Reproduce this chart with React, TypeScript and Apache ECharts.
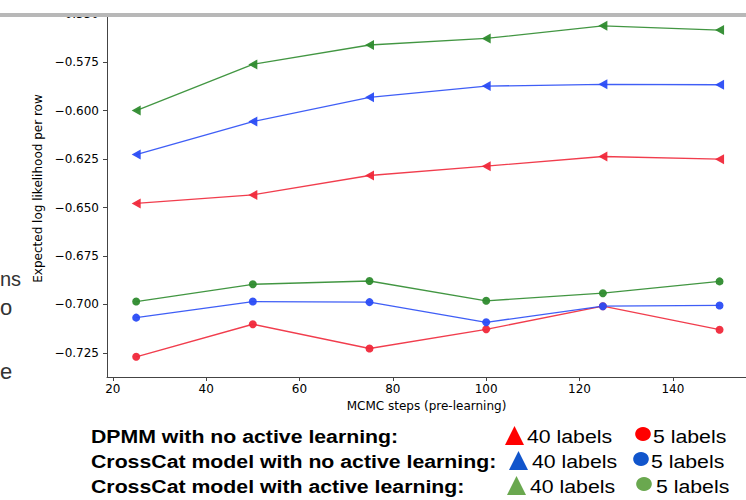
import React, { useEffect, useRef } from "react";
import * as echarts from "echarts";

const xSteps = [25, 50, 75, 100, 125, 150];
const xTicks = [20, 40, 60, 80, 100, 120, 140];
const yTicks = [-0.725, -0.7, -0.675, -0.65, -0.625, -0.6, -0.575, -0.55];

const dpmm40 = [-0.6479, -0.6435, -0.6335, -0.6287, -0.6237, -0.6251];
const ccNo40 = [-0.6227, -0.6057, -0.5932, -0.5874, -0.5865, -0.5867];
const ccAl40 = [-0.6, -0.5762, -0.5662, -0.5628, -0.5563, -0.5585];
const dpmm5 = [-0.727, -0.7102, -0.7227, -0.7128, -0.7009, -0.713];
const ccNo5 = [-0.7068, -0.6985, -0.6988, -0.7092, -0.7009, -0.7005];
const ccAl5 = [-0.6985, -0.6896, -0.6879, -0.6981, -0.6942, -0.6881];

const legendRows = [
  "DPMM with no active learning:",
  "CrossCat model with no active learning:",
  "CrossCat model with active learning:",
];
const legendColors = ["#ff0000", "#1155cc", "#6aa84f"];
const sideFragments = ["ns", "o", "e"];

const RED = "#f0283a";
const BLUE = "#2a4cf5";
const GREEN = "#2e8b2e";

function fmt(v: number) {
  return (v < 0 ? "\u2212" : "") + Math.abs(v).toFixed(3);
}

export default function App() {
  const ref = useRef<HTMLDivElement>(null);
  useEffect(() => {
    if (!ref.current) return;
    const chart = echarts.init(ref.current, null, { renderer: "svg" });
    const tri = (name: string, data: number[], color: string) => ({
      name,
      type: "line",
      data: xSteps.map((x, i) => [x, data[i]]),
      symbol: "triangle",
      symbolRotate: 90,
      symbolSize: [10, 9],
      lineStyle: { color, width: 1.3, opacity: 0.9 },
      itemStyle: { color, opacity: 0.95 },
      z: 3,
    });
    const dot = (name: string, data: number[], color: string) => ({
      name,
      type: "line",
      data: xSteps.map((x, i) => [x, data[i]]),
      symbol: "circle",
      symbolSize: 8,
      lineStyle: { color, width: 1.3, opacity: 0.9 },
      itemStyle: { color, opacity: 0.95 },
      z: 3,
    });
    const S = 1.12;
    const legendChildren: any[] = [];
    const baselines = [446, 471, 496];
    const triX = [505, 509, 507];
    const fortyX = [527, 532, 530];
    const circX = [643, 641, 644];
    const fiveX = [653, 651, 656];
    for (let r = 0; r < 3; r++) {
      const b = baselines[r];
      legendChildren.push({
        type: "text",
        x: 91 / S,
        y: b,
        style: {
          text: legendRows[r],
          fontFamily: "Liberation Sans, Arial, sans-serif",
          fontWeight: "bold",
          fontSize: 19,
          fill: "#000",
          textAlign: "left",
          textVerticalAlign: "bottom",
        },
      });
      legendChildren.push({
        type: "polygon",
        shape: {
          points: [
            [triX[r] / S, b - 1],
            [(triX[r] + 19) / S, b - 1],
            [(triX[r] + 9.5) / S, b - 20],
          ],
        },
        style: { fill: legendColors[r] },
      });
      legendChildren.push({
        type: "text",
        x: fortyX[r] / S,
        y: b,
        style: {
          text: "40 labels",
          fontFamily: "Liberation Sans, Arial, sans-serif",
          fontSize: 19,
          fill: "#000",
          textAlign: "left",
          textVerticalAlign: "bottom",
        },
      });
      legendChildren.push({
        type: "circle",
        shape: { cx: circX[r] / S, cy: b - 12, r: 7 },
        style: { fill: legendColors[r] },
      });
      legendChildren.push({
        type: "text",
        x: fiveX[r] / S,
        y: b,
        style: {
          text: "5 labels",
          fontFamily: "Liberation Sans, Arial, sans-serif",
          fontSize: 19,
          fill: "#000",
          textAlign: "left",
          textVerticalAlign: "bottom",
        },
      });
    }
    const sideY = [279, 307, 371];
    const side = sideFragments.map((text, i) => ({
      type: "text",
      x: 0,
      y: sideY[i],
      style: {
        text,
        fontFamily: "Liberation Sans, Arial, sans-serif",
        fontSize: i === 0 ? 20 : 22,
        fill: "#333",
        textAlign: "left",
        textVerticalAlign: "middle",
      },
    }));
    chart.setOption({
      animation: false,
      backgroundColor: "#fff",
      grid: { left: 107, right: 0, top: 0, bottom: 123, containLabel: false },
      xAxis: {
        type: "value",
        min: 18.75,
        max: 155.67,
        name: "MCMC steps (pre-learning)",
        nameLocation: "middle",
        nameGap: 19,
        nameTextStyle: { fontFamily: "DejaVu Sans", fontSize: 12, color: "#000" },
        axisLine: { show: true, lineStyle: { color: "#444", width: 1 } },
        axisTick: {
          show: true,
          inside: false,
          length: 4,
          customValues: xTicks,
          lineStyle: { color: "#444" },
        },
        axisLabel: {
          customValues: xTicks,
          margin: 6,
          fontFamily: "DejaVu Sans",
          fontSize: 12,
          color: "#000",
        },
        splitLine: { show: false },
      },
      yAxis: {
        type: "value",
        min: -0.7374,
        max: -0.543,
        name: "Expected log likelihood per row",
        nameLocation: "middle",
        nameGap: 55,
        nameRotate: 90,
        nameTextStyle: { fontFamily: "DejaVu Sans", fontSize: 12, color: "#000" },
        axisLine: { show: true, lineStyle: { color: "#444", width: 1 } },
        axisTick: {
          show: true,
          inside: false,
          length: 4,
          customValues: yTicks,
          lineStyle: { color: "#444" },
        },
        axisLabel: {
          customValues: yTicks,
          margin: 8,
          formatter: (v: number) => fmt(v),
          fontFamily: "DejaVu Sans",
          fontSize: 12,
          color: "#000",
        },
        splitLine: { show: false },
      },
      series: [
        tri("DPMM 40 labels", dpmm40, RED),
        tri("CrossCat no AL 40 labels", ccNo40, BLUE),
        tri("CrossCat AL 40 labels", ccAl40, GREEN),
        dot("DPMM 5 labels", dpmm5, RED),
        dot("CrossCat no AL 5 labels", ccNo5, BLUE),
        dot("CrossCat AL 5 labels", ccAl5, GREEN),
      ],
      graphic: [
        {
          type: "rect",
          z: 100,
          shape: { x: 0, y: 0, width: 746, height: 13 },
          style: { fill: "#fff" },
        },
        {
          type: "rect",
          z: 100,
          shape: { x: 0, y: 13, width: 746, height: 4 },
          style: { fill: "#b8b8b8" },
        },
        ...side,
        {
          type: "group",
          x: 0,
          y: 0,
          scaleX: S,
          children: legendChildren,
        },
      ],
    });
    return () => chart.dispose();
  }, []);
  return (
    <div
      ref={ref}
      style={{ position: "fixed", left: 0, top: 0, width: 746, height: 500 }}
    />
  );
}
